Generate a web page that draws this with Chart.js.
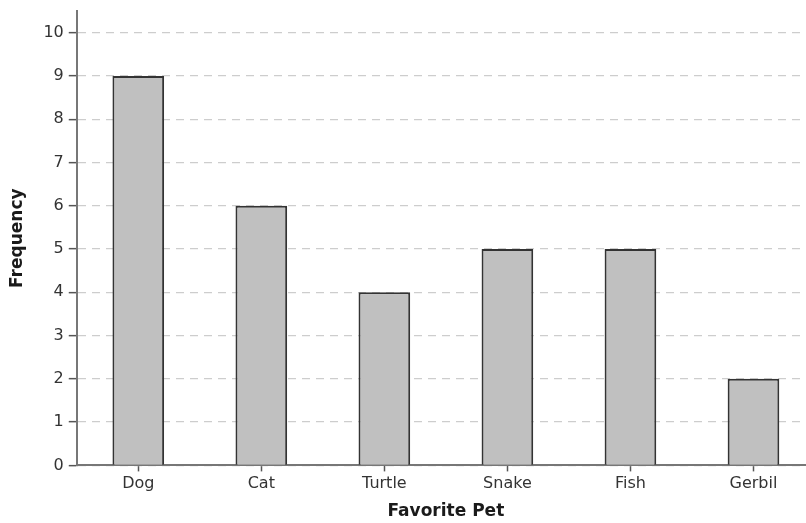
<!DOCTYPE html>
<html>
<head>
<meta charset="utf-8">
<script src="https://cdn.jsdelivr.net/npm/chart.js@4"></script>
<style>
  html, body { margin: 0; padding: 0; background: #fff; overflow: hidden; }
  #wrap { width: 815px; height: 523px; }
</style>
</head>
<body>
<div id="wrap"><canvas id="petChart"></canvas></div>
<script>
// data
const pets = ["Dog", "Cat", "Turtle", "Snake", "Fish", "Gerbil"];
const frequency = [9, 6, 4, 5, 5, 2];
const yTitle = "Frequency";
const xTitle = "Favorite Pet";

const tickFont = { family: "DejaVu Sans", size: 16 };
const titleFont = { family: "DejaVu Sans", size: 17, weight: "bold" };

new Chart(document.getElementById("petChart"), {
  type: "bar",
  data: {
    labels: pets,
    datasets: [
      {
        data: frequency,
        backgroundColor: "#c0c0c0",
        borderColor: "#333",
        borderWidth: 2,
        barPercentage: 0.42,
        categoryPercentage: 1,
      },
    ],
  },
  options: {
    responsive: true,
    maintainAspectRatio: false,
    animation: false,
    layout: { padding: { top: 11, right: 0, left: 3, bottom: 0 } },
    plugins: { legend: { display: false }, tooltip: { enabled: false } },
    scales: {
      x: {
        grid: {
          offset: false,
          drawOnChartArea: false,
          drawTicks: true,
          tickLength: 6,
          tickColor: "#555",
          tickWidth: 1.5,
        },
        border: { color: "#777", width: 2 },
        ticks: { color: "#333", font: tickFont, padding: 3 },
        title: { display: true, text: xTitle, color: "#1a1a1a", font: titleFont, padding: { top: 5, bottom: 1 } },
      },
      y: {
        min: 0,
        max: 10.5,
        // the top label is 10, not 10.5, so no room is needed for it above the axis
        afterFit: (scale) => { scale.paddingTop = 0; },
        grid: {
          color: "#cdcdcd",
          lineWidth: 1.3,
          tickLength: 8,
          tickColor: "#555",
          tickWidth: 1.5,
          tickBorderDash: [],
        },
        border: { color: "#777", width: 2, dash: [8, 6] },
        ticks: { stepSize: 1, includeBounds: false, color: "#333", font: tickFont, padding: 5 },
        title: { display: true, text: yTitle, color: "#1a1a1a", font: titleFont, padding: { bottom: 11 } },
      },
    },
  },
});
</script>
</body>
</html>
